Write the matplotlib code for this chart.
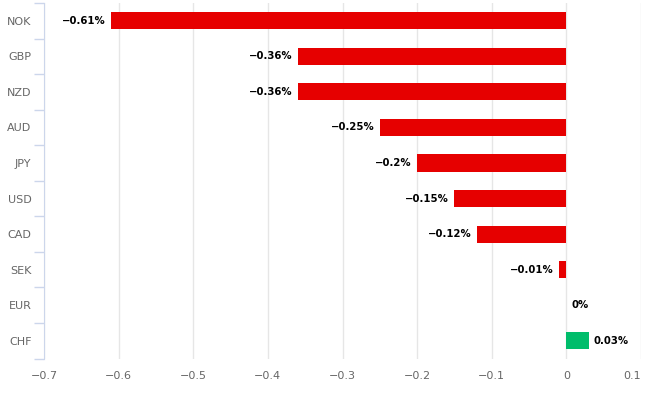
import matplotlib.pyplot as plt
import numpy as np

# 通貨と変化率（%）
currencies = ["NOK", "GBP", "NZD", "AUD", "JPY", "USD", "CAD", "SEK", "EUR", "CHF"]
changes = [-0.61, -0.36, -0.36, -0.25, -0.2, -0.15, -0.12, -0.01, 0.0, 0.03]
labels = ["−0.61%", "−0.36%", "−0.36%", "−0.25%", "−0.2%", "−0.15%", "−0.12%", "−0.01%", "0%", "0.03%"]
xticks = [-0.7, -0.6, -0.5, -0.4, -0.3, -0.2, -0.1, 0, 0.1]
xticklabels = ["−0.7", "−0.6", "−0.5", "−0.4", "−0.3", "−0.2", "−0.1", "0", "0.1"]

RED = "#e60000"
GREEN = "#00bd6b"

fig = plt.figure(figsize=(6.46, 3.97), dpi=100)
ax = fig.add_axes([44 / 646, 1 - 358.5 / 397, 597 / 646, 355.5 / 397])

y = np.arange(len(currencies))
colors = [GREEN if v > 0 else RED for v in changes]
ax.barh(y, changes, height=0.48, color=colors, zorder=3)

# 負の値は棒の左、ゼロ以上は右に表示
for yi, v, lab in zip(y, changes, labels):
    if v < 0:
        ax.text(v - 0.007, yi, lab, ha="right", va="center", fontsize=7.3,
                fontweight="bold", color="black", zorder=4)
    else:
        ax.text(v + 0.007, yi, lab, ha="left", va="center", fontsize=7.3,
                fontweight="bold", color="black", zorder=4)

ax.set_xlim(-0.7, 0.1)
ax.set_ylim(len(currencies) - 0.5, -0.5)

ax.set_xticks(xticks)
ax.set_xticklabels(xticklabels)
ax.tick_params(axis="x", length=0, labelsize=8, labelcolor="#666666", pad=9)
ax.get_xticklabels()[-1].set_horizontalalignment("right")

ax.set_yticks(y)
ax.set_yticklabels(currencies)
ax.set_yticks(np.arange(-0.5, len(currencies), 1), minor=True)
ax.tick_params(axis="y", which="major", length=0, labelsize=8, labelcolor="#666666", pad=9)
ax.tick_params(axis="y", which="minor", length=7.5, color="#ccd6eb", width=1)

ax.grid(axis="x", color="#e6e6e6", linewidth=1, zorder=0)
for s in ["top", "right", "bottom"]:
    ax.spines[s].set_visible(False)
ax.spines["left"].set_color("#ccd6eb")

fig.savefig("out.png", dpi=100)
